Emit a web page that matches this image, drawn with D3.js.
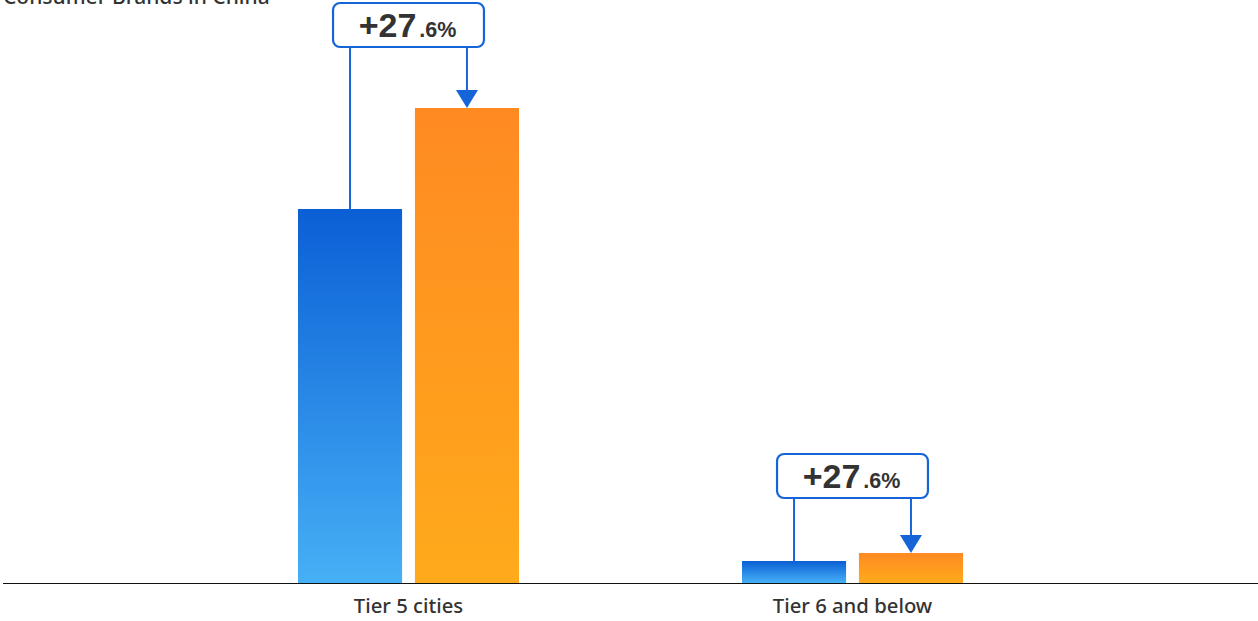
<!DOCTYPE html>
<html><head><meta charset="utf-8">
<script src="https://cdn.jsdelivr.net/npm/d3@7"></script>
<style>body{margin:0;background:#fff}svg{display:block}</style>
</head><body>
<svg id="c" width="1258" height="621"></svg>
<script>
const categories = ["Tier 5 cities", "Tier 6 and below"];
const series = ["before", "after"];
const beforeValues = [37.4, 2.2];
const afterValues = [47.5, 3.0];
const growthMain = ["+27", "+27"];
const growthDec = [".6%", ".6%"];
const title = "Consumer Brands in China";

const svg = d3.select("#c");
const W = 1258, baseY = 583;
const y = d3.scaleLinear().domain([0, 50]).range([baseY, 83]);
const x = d3.scaleBand().domain(categories).range([186.5, 1074.5]).paddingInner(0).paddingOuter(0);
const xs = d3.scaleBand().domain(series).range([111.5, 332.5]).paddingInner(0.11).paddingOuter(0);

const defs = svg.append("defs");
const gb = defs.append("linearGradient").attr("id","gBlue").attr("x1",0).attr("y1",0).attr("x2",0).attr("y2",1);
gb.append("stop").attr("offset",0).attr("stop-color","#0b5fd5");
gb.append("stop").attr("offset",1).attr("stop-color","#46b0f6");
const go = defs.append("linearGradient").attr("id","gOrange").attr("x1",0).attr("y1",0).attr("x2",0).attr("y2",1);
go.append("stop").attr("offset",0).attr("stop-color","#ff8a22");
go.append("stop").attr("offset",1).attr("stop-color","#ffaa1b");

svg.append("text").attr("x",3).attr("y",4).attr("font-family","Noto Sans, sans-serif").attr("font-size",21)
  .attr("font-weight",500).attr("fill","#333").text(title);

const data = categories.map((c,i)=>({c, v:[beforeValues[i], afterValues[i]], i}));
const g = svg.selectAll("g.grp").data(data).join("g").attr("class","grp");

g.selectAll("rect").data(d=>series.map((s,k)=>({c:d.c,s,v:d.v[k]}))).join("rect")
  .attr("x", d=>x(d.c)+xs(d.s)).attr("width", xs.bandwidth())
  .attr("y", d=>y(d.v)).attr("height", d=>baseY - y(d.v))
  .attr("fill", d=>d.s==="before"?"url(#gBlue)":"url(#gOrange)");

// axis
const ax = svg.append("g").attr("transform",`translate(0,${baseY})`)
  .call(d3.axisBottom(x).tickSize(0).tickPadding(15.5));
ax.select(".domain").attr("d",`M3,0.5H${W}`).attr("stroke","#111").attr("stroke-width",1.2);
ax.selectAll("text").attr("font-family","Noto Sans, sans-serif").attr("font-size",20.3).attr("font-weight",500).attr("fill","#333").attr("dy","0.71em");

// callouts
data.forEach(d=>{
  const bx = x(d.c)+xs("before")+xs.bandwidth()/2;
  const ax2 = x(d.c)+xs("after")+xs.bandwidth()/2;
  const topA = y(d.v[1]);
  const top = topA - 105 + (d.i ? 6 : 0);
  const h = 44;
  const cg = svg.append("g");
  cg.append("line").attr("x1",bx).attr("x2",bx).attr("y1",top+h).attr("y2",y(d.v[0]))
    .attr("stroke","#1565d8").attr("stroke-width",2);
  cg.append("line").attr("x1",ax2).attr("x2",ax2).attr("y1",top+h).attr("y2",topA-17)
    .attr("stroke","#1565d8").attr("stroke-width",2);
  cg.append("path").attr("d",`M${ax2-11},${topA-18}L${ax2+11},${topA-18}L${ax2},${topA}Z`).attr("fill","#1565d8");
  cg.append("rect").attr("x",bx-17).attr("y",top).attr("width",ax2-bx+34).attr("height",h)
    .attr("rx",7).attr("fill","#fff").attr("stroke","#1565d8").attr("stroke-width",2.2);
  const t = cg.append("text").attr("x",(bx+ax2)/2-1).attr("y",top+34).attr("text-anchor","middle")
    .attr("font-family","Liberation Sans, Arial, sans-serif").attr("font-weight",700).attr("fill","#333");
  t.append("tspan").attr("font-size",34).text(growthMain[d.i]);
  t.append("tspan").attr("font-size",21.5).attr("dx",3).text(growthDec[d.i]);
});
</script>
</body></html>
